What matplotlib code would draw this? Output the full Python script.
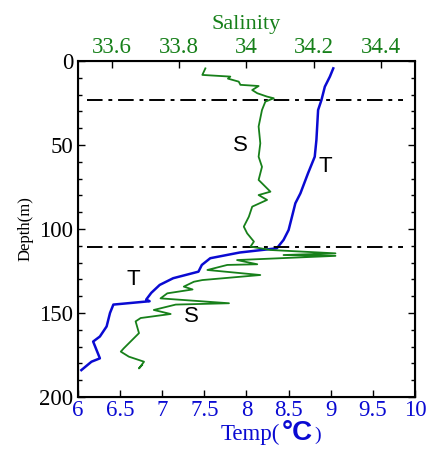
import matplotlib.pyplot as plt
import numpy as np

# temperature profile (deg C) vs depth (m)
temp_depth = [4.4, 9.3, 15.3, 23.2, 29.2, 47, 57, 66.9, 78.8, 84.7, 92.7, 100.6, 106.5,
              111.5, 114, 117.4, 121.4, 125.4, 129.3, 133.3, 138, 142, 143, 145, 150,
              158, 164, 167, 172, 177, 179, 184]
temp = [9.03, 8.99, 8.93, 8.89, 8.85, 8.83, 8.81, 8.73, 8.64, 8.58, 8.54, 8.50, 8.44,
        8.36, 7.92, 7.57, 7.47, 7.43, 7.13, 6.97, 6.87, 6.81, 6.85, 6.42, 6.38,
        6.34, 6.26, 6.18, 6.22, 6.26, 6.16, 6.04]

# salinity profile vs depth (m)
sal_depth = [4.4, 8.3, 9.3, 10.5, 12.3, 14.2, 14.9, 17.3, 19.2, 21.2, 22.2, 24.2, 29.2,
             39, 49, 57, 63, 70.8, 77.8, 79.8, 82.7, 86.7, 92.7, 98.6, 102.6, 107.5,
             110.5, 112.5, 114.5, 115.5, 116, 118.5, 121, 121.4, 124.4, 127.4, 130.4,
             131.4, 134.3, 136, 138.3, 141.3, 144.2, 145, 148.2, 150.6, 153, 155, 162,
             167, 171, 173, 176, 178, 179, 183, 181]
sal = [33.878, 33.869, 33.952, 33.945, 33.977, 33.982, 34.036, 34.017, 34.032, 34.061,
       34.081, 34.056, 34.046, 34.036, 34.041, 34.036, 34.046, 34.036, 34.071, 34.036,
       34.061, 34.017, 34.007, 33.992, 34.002, 34.022, 34.012, 34.071, 34.264, 34.11,
       34.264, 33.972, 34.032, 33.943, 33.884, 34.041, 33.869, 33.844, 33.814, 33.84,
       33.765, 33.745, 33.948, 33.79, 33.725, 33.775, 33.686, 33.671, 33.681, 33.656,
       33.636, 33.627, 33.651, 33.681, 33.696, 33.681, 33.69]

# mixed layer / thermocline limits (m)
layer_depths = [23, 111]

blue = '#0a0ad2'
green = '#17801a'
serif = 'Liberation Serif'
sans = 'Liberation Sans'

fig = plt.figure(figsize=(4.28, 4.5), dpi=100)
ax = fig.add_axes([0.1822, 0.1178, 0.7874, 0.7467])

ax.plot(temp, temp_depth, color=blue, lw=1.8)
for d in layer_depths:
    ax.plot([6.11, 9.86], [d, d], color='black', lw=1.4,
            linestyle=(0, (8, 3, 2, 3)))

ax.set_xlim(6, 10)
ax.set_ylim(200, 0)
ax.set_xticks(np.arange(6, 10.01, 0.5))
ax.set_xticklabels(['6', '6.5', '7', '7.5', '8', '8.5', '9', '9.5', '10'])
ax.set_yticks([0, 50, 100, 150, 200])
ax.set_yticks(np.arange(0, 201, 10), minor=True)
ax.tick_params(axis='both', which='major', direction='in', length=5, width=1,
               labelsize=16.5)
ax.tick_params(axis='y', which='both', right=True, direction='in')
ax.tick_params(axis='y', which='minor', length=3, width=1)
ax.tick_params(axis='x', color='black', labelcolor=blue, pad=2)
for lab in ax.get_xticklabels() + ax.get_yticklabels():
    lab.set_fontfamily(serif)
for s in ax.spines.values():
    s.set_linewidth(1.5)

ax.set_ylabel('Depth(m)', fontsize=12, family=serif, labelpad=4)
fig.text(0.654, 0.022, 'Temp(', color=blue, fontsize=16.5, family=serif,
         ha='right', va='baseline')
fig.text(0.659, 0.022, '°C', color=blue, fontsize=20, fontweight='bold',
         family=sans, ha='left', va='baseline')
fig.text(0.735, 0.022, ')', color=blue, fontsize=14, family=serif,
         ha='left', va='baseline')

ax2 = ax.twiny()
ax2.plot(sal, sal_depth, color=green, lw=1.3)
ax2.set_xlim(33.5, 34.5)
ax2.set_ylim(200, 0)
ax2.set_xticks([33.6, 33.8, 34.0, 34.2, 34.4])
ax2.set_xticklabels(['33.6', '33.8', '34', '34.2', '34.4'])
ax2.tick_params(axis='x', direction='in', length=5, width=1, labelsize=16.5,
                labelcolor=green, pad=2)
for lab in ax2.get_xticklabels():
    lab.set_fontfamily(serif)
ax2.set_xlabel('Salinity', color=green, fontsize=16, family=serif, labelpad=6)

ax.text(7.93, 50.6, 'S', fontsize=16, family=sans, ha='center', va='center')
ax.text(8.94, 63, 'T', fontsize=16, family=sans, ha='center', va='center')
ax.text(6.66, 130, 'T', fontsize=16, family=sans, ha='center', va='center')
ax.text(7.35, 152, 'S', fontsize=16, family=sans, ha='center', va='center')

fig.savefig('out.png', dpi=100)
